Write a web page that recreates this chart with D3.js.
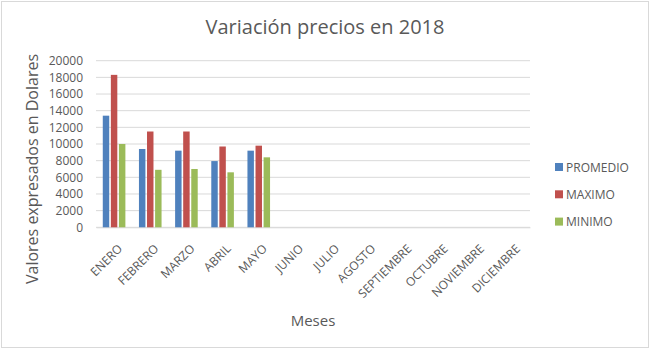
<!DOCTYPE html>
<html lang="es">
<head>
<meta charset="UTF-8">
<title>Variación precios en 2018</title>
<style>
  body { margin: 0; background: #fff; }
  text { font-family: "Open Sans", sans-serif; fill: #595959; }
</style>
</head>
<body>
<div class="chart"></div>
<script src="https://d3js.org/d3.v7.min.js"></script>
<script>
const meses = ["ENERO","FEBRERO","MARZO","ABRIL","MAYO","JUNIO","JULIO","AGOSTO",
               "SEPTIEMBRE","OCTUBRE","NOVIEMBRE","DICIEMBRE"];
const series = ["PROMEDIO","MAXIMO","MINIMO"];
const promedio = [13400, 9400, 9200, 7950, 9200];
const maximo   = [18300, 11500, 11500, 9700, 9800];
const minimo   = [10000, 6900, 7000, 6600, 8400];
const yTicks = [0,2000,4000,6000,8000,10000,12000,14000,16000,18000,20000];
const colores = ["#4f81bd", "#c0504d", "#9bbb59"];

const width = 653, height = 352;
const plot = { left: 96, right: 530, top: 60.7, bottom: 227.3 };

const svg = d3.select('.chart').append('svg')
  .attr('width', width).attr('height', height);

// marco del gráfico
svg.append('rect')
  .attr('x', 1.5).attr('y', 1.5)
  .attr('width', 647).attr('height', 346)
  .attr('fill', '#fff').attr('stroke', '#d9d9d9');

const x0 = d3.scaleBand().domain(meses)
  .range([plot.left, plot.right]).paddingInner(0.375).paddingOuter(0.1875);
const x1 = d3.scaleBand().domain(series)
  .range([0, x0.bandwidth()]).paddingInner(0.2);
const y = d3.scaleLinear().domain([0, 20000]).range([plot.bottom, plot.top]);
const color = d3.scaleOrdinal().domain(series).range(colores);

// líneas de cuadrícula
svg.append('g').selectAll('line')
  .data(yTicks).join('line')
  .attr('x1', plot.left).attr('x2', plot.right)
  .attr('y1', d => y(d)).attr('y2', d => y(d))
  .attr('stroke', '#d9d9d9').attr('stroke-width', 1);

// eje Y
const yAxis = svg.append('g')
  .attr('transform', `translate(${plot.left - 10},0)`)
  .call(d3.axisLeft(y).tickValues(yTicks).tickSize(0).tickFormat(d3.format('d')));
yAxis.select('.domain').remove();
yAxis.selectAll('text').attr('font-size', 12).attr('fill', '#595959')
  .style('font-family', '"Open Sans", sans-serif');

// eje X
const xAxis = svg.append('g')
  .attr('transform', `translate(0,${plot.bottom})`)
  .call(d3.axisBottom(x0).tickSize(0));
xAxis.select('.domain').attr('stroke', '#d9d9d9');
xAxis.selectAll('text')
  .attr('font-size', 12).attr('fill', '#595959')
  .style('font-family', '"Open Sans", sans-serif')
  .attr('text-anchor', 'end')
  .attr('dx', 0).attr('dy', 0)
  .attr('transform', 'translate(7,20) rotate(-45)');

// barras
const datos = meses.map((m, i) => ({
  mes: m,
  valores: [promedio[i], maximo[i], minimo[i]]
}));

const grupos = svg.append('g').selectAll('g')
  .data(datos.filter(d => d.valores[0] !== undefined)).join('g')
  .attr('transform', d => `translate(${x0(d.mes)},0)`);

grupos.selectAll('rect')
  .data(d => d.valores.map((v, j) => ({ serie: series[j], v })))
  .join('rect')
  .attr('x', d => x1(d.serie))
  .attr('width', x1.bandwidth())
  .attr('y', d => y(d.v))
  .attr('height', d => y(0) - y(d.v))
  .attr('fill', d => color(d.serie));

// título
svg.append('text')
  .attr('x', 325).attr('y', 34)
  .attr('text-anchor', 'middle')
  .attr('font-size', 20)
  .text('Variación precios en 2018');

// títulos de ejes
svg.append('text')
  .attr('transform', 'translate(38,169) rotate(-90)')
  .attr('text-anchor', 'middle')
  .attr('font-size', 16)
  .text('Valores expresados en Dolares');

svg.append('text')
  .attr('x', 313).attr('y', 326)
  .attr('text-anchor', 'middle')
  .attr('font-size', 15)
  .text('Meses');

// leyenda
const leyenda = svg.append('g').selectAll('g')
  .data(series).join('g')
  .attr('transform', (d, i) => `translate(555,${167 + i * 27.3})`);
leyenda.append('rect')
  .attr('x', 0).attr('y', -4).attr('width', 8).attr('height', 8)
  .attr('fill', d => color(d));
leyenda.append('text')
  .attr('x', 11).attr('y', 4.5)
  .attr('font-size', 12)
  .text(d => d);
</script>
</body>
</html>
